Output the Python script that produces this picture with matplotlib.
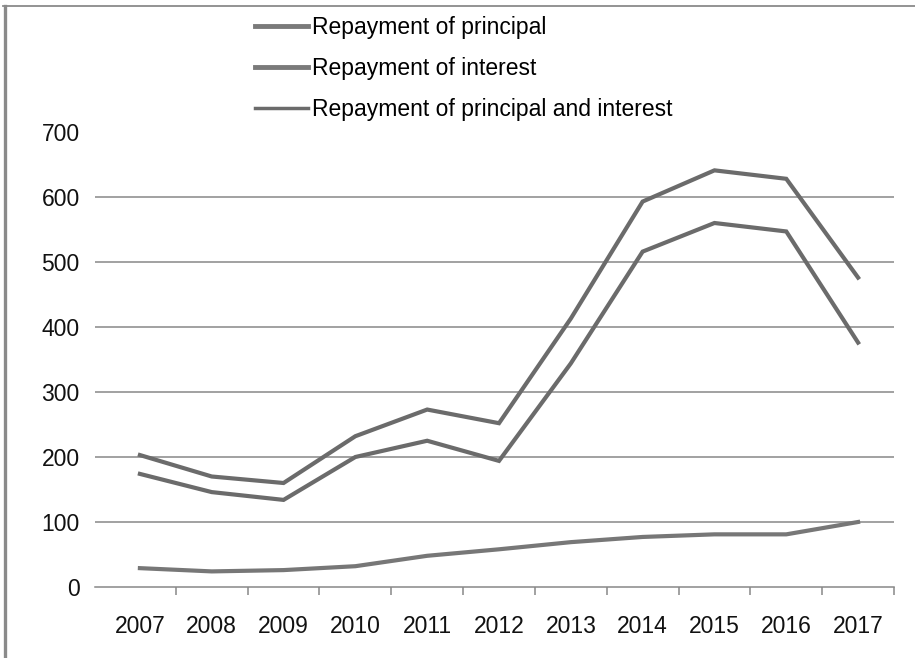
import matplotlib
matplotlib.use("Agg")
import matplotlib.pyplot as plt
from matplotlib.lines import Line2D

years = ["2007", "2008", "2009", "2010", "2011", "2012", "2013", "2014", "2015", "2016", "2017"]
principal = [174, 146, 134, 200, 225, 194, 344, 516, 560, 547, 376]
interest = [29, 24, 26, 32, 48, 58, 69, 77, 81, 81, 100]
total = [203, 170, 160, 232, 273, 252, 413, 593, 641, 628, 476]
yticks = [0, 100, 200, 300, 400, 500, 600, 700]

W, H = 915, 658
fig = plt.figure(figsize=(W / 100, H / 100), dpi=100)
plt.rcParams['font.family'] = ['Liberation Sans', 'DejaVu Sans']

# frame lines of the picture
fig.add_artist(Line2D([4.5 / W, 4.5 / W], [0, 1 - 6 / H], color="#8a8a8a", lw=2.4))
fig.add_artist(Line2D([3 / W, 1], [1 - 6 / H, 1 - 6 / H], color="#8a8a8a", lw=1.3))

left, right = 95, 894
top, bottom = 132, 587
ax = fig.add_axes([left / W, 1 - bottom / H, (right - left) / W, (bottom - top) / H])
ax.set_ylim(0, 700)
xl = -0.5 - 9 / 71.8
ax.set_xlim(xl, 10.5)

for v in yticks[1:-1]:
    ax.axhline(v, color="#888888", lw=1.1, zorder=1)

col = "#6b6b6b"
x = list(range(len(years)))
ax.plot(x, principal, color=col, lw=3.0, label="Repayment of principal", zorder=3,
        solid_joinstyle="miter")
ax.plot(x, interest, color="#777777", lw=3.0, label="Repayment of interest", zorder=3)
ax.plot(x, total, color=col, lw=3.0, label="Repayment of principal and interest", zorder=3,
        solid_joinstyle="miter")

for s in ["top", "right", "left"]:
    ax.spines[s].set_visible(False)
ax.spines["bottom"].set_color("#888888")
ax.spines["bottom"].set_linewidth(1.1)

ax.set_xticks(x)
ax.set_xticklabels(years, fontsize=16.5, color="#111111")
ax.set_xticks([i + 0.5 for i in range(len(years))], minor=True)
ax.tick_params(axis="x", which="major", length=0, pad=20)
ax.tick_params(axis="x", which="minor", length=5.5, color="#888888", width=1.1)
ax.set_yticks(yticks)
ax.set_yticklabels([str(v) for v in yticks], fontsize=16.5, color="#111111")
ax.tick_params(axis="y", length=0, pad=11)

handles = [
    Line2D([], [], color="#7a7a7a", lw=3.5),
    Line2D([], [], color="#7a7a7a", lw=3.5),
    Line2D([], [], color="#6b6b6b", lw=2.5),
]
labels = ["Repayment of principal", "Repayment of interest", "Repayment of principal and interest"]
fig.legend(handles, labels, loc="upper left", bbox_to_anchor=(255 / W, 1 - 16 / H),
           frameon=False, fontsize=16.5, handlelength=2.3, handletextpad=0.2,
           labelspacing=0.78, borderaxespad=0, borderpad=0)

fig.savefig("out.png", dpi=100)
